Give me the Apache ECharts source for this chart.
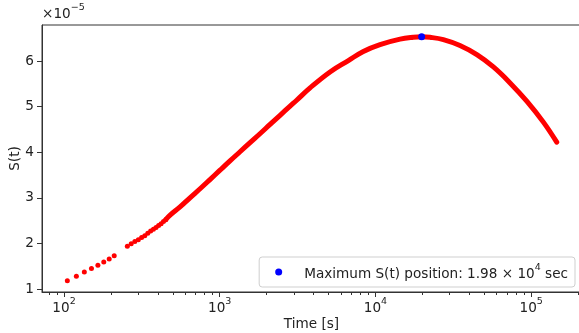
<!DOCTYPE html>
<html>
<head>
<meta charset="utf-8">
<script src="https://cdn.jsdelivr.net/npm/echarts@6/dist/echarts.min.js"></script>
<style>
  html, body { margin: 0; padding: 0; background: #fff; }
  #chart { width: 579px; height: 333px; }
</style>
</head>
<body>
<div id="chart"></div>
<script>
// S(t) values are in units of 1e-5 (axis offset shown as x10^-5)
const earlyTimes = [105, 120, 135, 150, 165, 180, 195, 210, 255, 270, 285, 300, 315, 330, 345, 360, 375, 390, 405, 420, 435, 450]
const earlyS = [1.18, 1.28, 1.37, 1.45, 1.52, 1.59, 1.66, 1.73, 1.94, 1.99, 2.04, 2.08, 2.13, 2.17, 2.22, 2.27, 2.31, 2.35, 2.39, 2.43, 2.48, 2.52]

const curveTimes = [450, 480, 556, 644, 760, 866, 1000, 1164, 1350, 1566, 1820, 2105, 2440, 2830, 3120, 3803, 5110, 6700, 8360,
  10700, 14400, 17500, 19800, 22400, 27300, 34900, 44800, 57200, 73200, 93700, 119800, 146000]
const curveS = [2.52, 2.62, 2.80, 3.00, 3.22, 3.40, 3.60, 3.81, 4.01, 4.21, 4.41, 4.61, 4.81, 5.01, 5.14, 5.41, 5.76, 6.01, 6.21,
  6.36, 6.48, 6.52, 6.53, 6.52, 6.47, 6.34, 6.14, 5.87, 5.52, 5.12, 4.66, 4.22]

const maxTime = [19800]
const maxS = [6.53]

const xMajorTicks = [100, 1000, 10000, 100000]
const xMinorTicks = [80, 90, 200, 300, 400, 500, 600, 700, 800, 900, 2000, 3000, 4000, 5000, 6000, 7000, 8000, 9000,
  20000, 30000, 40000, 50000, 60000, 70000, 80000, 90000, 200000]
const yTicks = [1, 2, 3, 4, 5, 6]

const X_MIN = 72.2
const X_MAX = 209000
const Y_MIN = 0.934
const Y_MAX = 6.79

const FONT = 'DejaVu Sans'
const FS = 13.6
const TXT = '#222'
const supRich = {
  b: { fontFamily: FONT, fontSize: FS, fontWeight: 'normal', color: TXT, padding: [4, 0, 0, 0], verticalAlign: 'bottom' },
  sup: { fontFamily: FONT, fontSize: 9.5, fontWeight: 'normal', color: TXT, verticalAlign: 'top' }
}

const myChart = echarts.init(document.getElementById('chart'))
const option = {
  animation: false,
  backgroundColor: '#fff',
  title: {
    text: '{b|×10}{sup|−5}',
    left: 42,
    top: 3,
    padding: 0,
    textStyle: { fontWeight: 'normal', rich: supRich }
  },
  grid: {
    left: 42, top: 25, right: -2, bottom: 41,
    outerBoundsMode: 'none',
    containLabel: false,
    show: true, borderColor: '#333', borderWidth: 1
  },
  legend: {
    data: ['max'],
    right: 4,
    top: 257,
    icon: 'circle',
    itemWidth: 7,
    itemHeight: 7,
    padding: [6, 7, 6, 16],
    borderColor: '#cfcfcf',
    borderWidth: 1,
    borderRadius: 3,
    backgroundColor: 'rgba(255,255,255,0.8)',
    formatter: () => '{b|Maximum S(t) position: ' + (maxTime[0] / 1e4).toFixed(2) + ' × 10}{sup|4}{b| sec}',
    textStyle: { padding: [0, 0, 0, 17], rich: supRich }
  },
  xAxis: [
    {
      type: 'log',
      logBase: 10,
      min: X_MIN,
      max: X_MAX,
      name: 'Time [s]',
      nameLocation: 'middle',
      nameGap: 25,
      nameMoveOverlap: false,
      nameTextStyle: { fontFamily: FONT, fontSize: FS, color: TXT },
      axisLine: { show: true, lineStyle: { color: '#333', width: 1 } },
      axisTick: { show: true, length: 5, customValues: xMajorTicks, lineStyle: { color: '#333' } },
      axisLabel: {
        customValues: xMajorTicks,
        margin: 5,
        formatter: (v) => '{b|10}{sup|' + Math.round(Math.log10(v)) + '}',
        rich: supRich
      },
      splitLine: { show: false },
      minorTick: { show: false }
    },
    {
      type: 'log',
      logBase: 10,
      min: X_MIN,
      max: X_MAX,
      position: 'bottom',
      axisLine: { show: false },
      axisTick: { show: true, length: 3, customValues: xMinorTicks, lineStyle: { color: '#333' } },
      axisLabel: { show: false },
      splitLine: { show: false }
    }
  ],
  yAxis: {
    type: 'value',
    min: Y_MIN,
    max: Y_MAX,
    name: 'S(t)',
    nameLocation: 'middle',
    nameGap: 20,
    nameRotate: 90,
    nameMoveOverlap: false,
    nameTextStyle: { fontFamily: FONT, fontSize: FS, color: TXT },
    axisLine: { show: true, lineStyle: { color: '#333', width: 1 } },
    axisTick: { show: true, length: 5, customValues: yTicks, lineStyle: { color: '#333' } },
    axisLabel: { customValues: yTicks, margin: 8, fontFamily: FONT, fontSize: FS, color: TXT },
    splitLine: { show: false }
  },
  series: [
    {
      name: 'S(t)',
      type: 'scatter',
      symbol: 'circle',
      symbolSize: 5,
      itemStyle: { color: '#ff0000', opacity: 1 },
      data: earlyTimes.map((t, i) => [t, earlyS[i]]),
      silent: true
    },
    {
      name: 'S(t) curve',
      type: 'line',
      showSymbol: false,
      smooth: 0.4,
      lineStyle: { color: '#ff0000', width: 5, cap: 'round', join: 'round' },
      data: curveTimes.map((t, i) => [t, curveS[i]]),
      silent: true
    },
    {
      name: 'max',
      type: 'scatter',
      symbol: 'circle',
      symbolSize: 7,
      itemStyle: { color: '#0000ff', opacity: 1 },
      data: maxTime.map((t, i) => [t, maxS[i]]),
      z: 5
    }
  ]
}
myChart.setOption(option)
</script>
</body>
</html>
